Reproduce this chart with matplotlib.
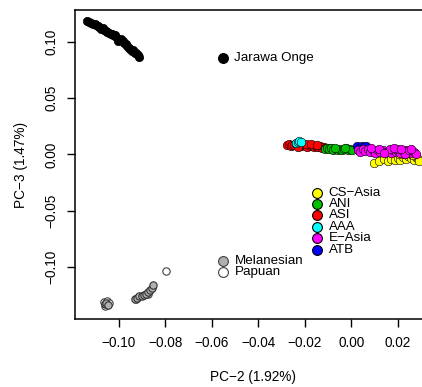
import matplotlib
matplotlib.use("Agg")
import matplotlib.pyplot as plt

plt.rcParams["font.family"] = ["Liberation Sans", "DejaVu Sans"]
plt.rcParams["font.size"] = 9.5

# PCA coordinates (PC-2, PC-3) per population group
jarawa_x = [-0.1136, -0.1128, -0.1120, -0.1113, -0.1105, -0.1098, -0.1090, -0.1084,
            -0.1078, -0.1070, -0.1063, -0.1056, -0.1050, -0.1043, -0.1036, -0.1030,
            -0.1024, -0.1018, -0.1012, -0.1005, -0.0998, -0.0990, -0.0983, -0.0977,
            -0.0970, -0.0964, -0.0958, -0.0952, -0.0946, -0.0940, -0.0933, -0.0926,
            -0.0920, -0.0913]
jarawa_y = [0.1189, 0.1180, 0.1170, 0.1162, 0.1158, 0.1148, 0.1140, 0.1132,
            0.1118, 0.1120, 0.1105, 0.1098, 0.1090, 0.1082, 0.1075, 0.1070,
            0.1062, 0.1066, 0.1040, 0.1010, 0.1020, 0.1030, 0.1012, 0.0995,
            0.0980, 0.0960, 0.0945, 0.0935, 0.0918, 0.0925, 0.0905, 0.0898,
            0.0885, 0.0870]

asi_x = [-0.0277, -0.0270, -0.0262, -0.0255, -0.0247, -0.0240, -0.0232, -0.0224,
         -0.0216, -0.0208, -0.0200, -0.0192, -0.0184, -0.0176, -0.0168, -0.0160,
         -0.0152, -0.0144, -0.0136, -0.0128, -0.0120, -0.0114, -0.0196, -0.0172,
         -0.0148, -0.0228]
asi_y = [0.0080, 0.0090, 0.0076, 0.0086, 0.0082, 0.0092, 0.0078, 0.0088,
         0.0074, 0.0084, 0.0080, 0.0070, 0.0086, 0.0074, 0.0080, 0.0068,
         0.0076, 0.0064, 0.0072, 0.0060, 0.0068, 0.0058, 0.0094, 0.0090,
         0.0082, 0.0070]

aaa_x = [-0.0240, -0.0232, -0.0224, -0.0216, -0.0092]
aaa_y = [0.0100, 0.0112, 0.0120, 0.0108, 0.0060]

ani_x = [-0.0112, -0.0104, -0.0096, -0.0086, -0.0078, -0.0068, -0.0060, -0.0050,
         -0.0042, -0.0032, -0.0024, -0.0014, -0.0006, 0.0004, -0.0072, -0.0028]
ani_y = [0.0052, 0.0060, 0.0046, 0.0056, 0.0044, 0.0052, 0.0040, 0.0050,
         0.0038, 0.0046, 0.0054, 0.0040, 0.0048, 0.0036, 0.0062, 0.0060]

atb_x = [0.0024, 0.0034, 0.0044, 0.0054, 0.0064]
atb_y = [0.0072, 0.0062, 0.0078, 0.0068, 0.0074]

csasia_x = [0.0098, 0.0120, 0.0140, 0.0158, 0.0172, 0.0186, 0.0198, 0.0210,
            0.0222, 0.0234, 0.0244, 0.0254, 0.0262, 0.0270, 0.0278, 0.0284,
            0.0290, 0.0250, 0.0266, 0.0226, 0.0204]
csasia_y = [-0.0076, -0.0056, -0.0044, -0.0058, -0.0036, -0.0050, -0.0030, -0.0046,
            -0.0026, -0.0042, -0.0016, -0.0034, -0.0008, -0.0048, -0.0020, -0.0038,
            -0.0054, 0.0012, -0.0002, 0.0006, 0.0000]

easia_x = [0.0026, 0.0036, 0.0048, 0.0058, 0.0070, 0.0080, 0.0092, 0.0102,
           0.0114, 0.0124, 0.0136, 0.0146, 0.0158, 0.0168, 0.0178, 0.0190,
           0.0200, 0.0210, 0.0220, 0.0230, 0.0240, 0.0250, 0.0260, 0.0270,
           0.0278, 0.0164, 0.0196, 0.0232, 0.0086, 0.0118, 0.0142, 0.0184,
           0.0214, 0.0246, 0.0256]
easia_y = [0.0040, 0.0022, 0.0048, 0.0030, 0.0050, 0.0024, 0.0040, 0.0014,
           0.0036, 0.0020, 0.0044, 0.0026, 0.0030, 0.0012, 0.0040, 0.0024,
           0.0034, 0.0014, 0.0028, 0.0038, 0.0018, 0.0030, 0.0010, 0.0022,
           0.0006, 0.0050, 0.0046, 0.0002, 0.0056, 0.0052, 0.0010, 0.0054,
           0.0048, 0.0044, 0.0050]

melanesian_x = [-0.1062, -0.1055, -0.1048, -0.0931, -0.0922, -0.0912, -0.0902,
                -0.0892, -0.0882, -0.0874, -0.0866, -0.0858, -0.0852]
melanesian_y = [-0.1330, -0.1318, -0.1338, -0.1287, -0.1272, -0.1262, -0.1258,
                -0.1250, -0.1238, -0.1222, -0.1205, -0.1186, -0.1162]

papuan_x = [-0.1065, -0.1052, -0.1044, -0.1058, -0.0926, -0.0876, -0.0798]
papuan_y = [-0.1310, -0.1300, -0.1322, -0.1345, -0.1280, -0.1236, -0.1033]

groups = [
    ("ASI", asi_x, asi_y, "#ff0000"),
    ("AAA", aaa_x, aaa_y, "#00ffff"),
    ("ANI", ani_x, ani_y, "#00c000"),
    ("ATB", atb_x, atb_y, "#0000ff"),
    ("CS-Asia", csasia_x, csasia_y, "#ffff00"),
    ("E-Asia", easia_x, easia_y, "#ff00ff"),
]

key_labels = ["CS\u2212Asia", "ANI", "ASI", "AAA", "E\u2212Asia", "ATB"]
key_colors = ["#ffff00", "#00c000", "#ff0000", "#00ffff", "#ff00ff", "#0000ff"]


def draw_key(ax, x0, y0, step, labels, faces, edges, size=50):
    for i, (lab, fc, ec) in enumerate(zip(labels, faces, edges)):
        y = y0 - i * step
        ax.scatter([x0], [y], s=size, c=fc, edgecolors=ec, linewidths=0.8,
                   zorder=5, clip_on=False)
        ax.text(x0 + 0.0050, y, lab, va="center", ha="left", fontsize=9.6)


fig = plt.figure(figsize=(4.22, 3.87), dpi=100)
ax = fig.add_axes([75 / 422, 68 / 387, 356 / 422, 309 / 387])

ax.scatter(jarawa_x, jarawa_y, s=36, c="black", edgecolors="black", linewidths=0.5)
ax.scatter(papuan_x, papuan_y, s=28, c="white", edgecolors="#404040", linewidths=0.8)
ax.scatter(melanesian_x, melanesian_y, s=28, c="#b0b0b0", edgecolors="#303030", linewidths=0.8)
for name, gx, gy, col in groups:
    ax.scatter(gx, gy, s=38, c=col, edgecolors="black", linewidths=0.4)

draw_key(ax, -0.0554, 0.0855, 0.0101, ["Jarawa Onge"], ["black"], ["black"])
draw_key(ax, -0.0148, -0.0340, 0.0101, key_labels, key_colors, ["black"] * 6)
draw_key(ax, -0.0551, -0.0944, 0.0101, ["Melanesian", "Papuan"],
         ["#b0b0b0", "white"], ["#404040", "#404040"])

ax.set_xlim(-0.1189, 0.0342)
ax.set_ylim(-0.1462, 0.1284)
ax.set_xticks([-0.10, -0.08, -0.06, -0.04, -0.02, 0.00, 0.02])
ax.set_yticks([-0.10, -0.05, 0.00, 0.05, 0.10])
ax.set_xticklabels(["\u22120.10", "\u22120.08", "\u22120.06", "\u22120.04", "\u22120.02", "0.00", "0.02"])
ax.set_yticklabels(["\u22120.10", "\u22120.05", "0.00", "0.05", "0.10"],
                   rotation=90, va="center")
ax.tick_params(length=6, width=1, pad=6, labelsize=9.8)

ax.set_xlabel("PC\u22122 (1.92%)", labelpad=14.5, fontsize=9.8)
ax.set_ylabel("PC\u22123 (1.47%)", labelpad=12, fontsize=9.8)

for sp in ax.spines.values():
    sp.set_linewidth(1.1)
ax.spines["right"].set_visible(False)

fig.savefig("out.png", dpi=100)
